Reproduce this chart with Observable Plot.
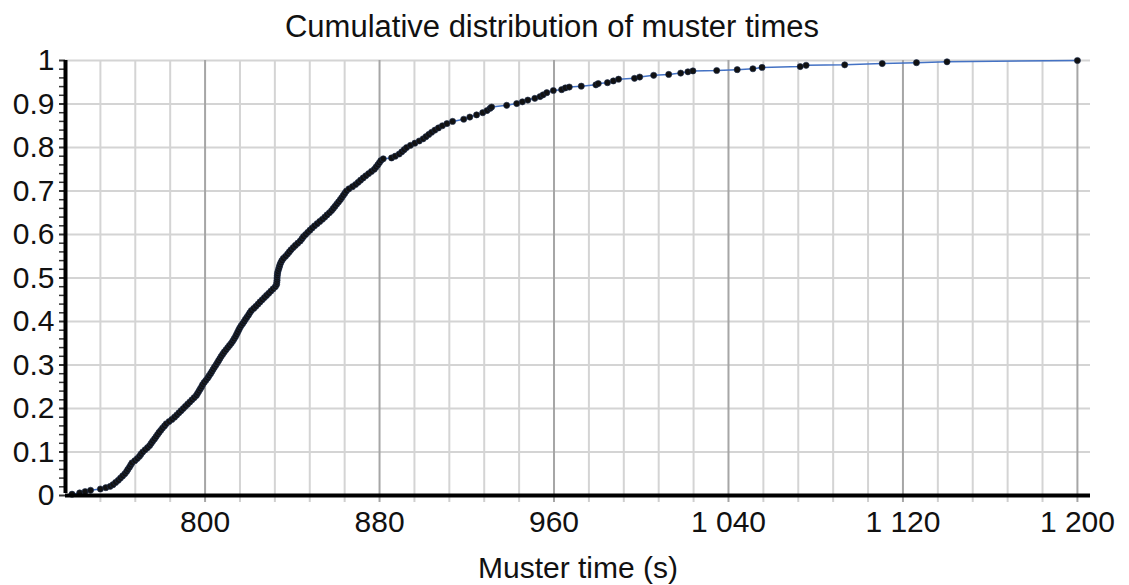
<!DOCTYPE html>
<html>
<head>
<meta charset="utf-8">
<script src="https://cdn.jsdelivr.net/npm/d3@7"></script>
<script src="https://cdn.jsdelivr.net/npm/@observablehq/plot@0.6"></script>
<style>
  html, body { margin: 0; padding: 0; background: #fff; }
  #wrap { position: relative; width: 1129px; height: 585px; font-family: "Liberation Sans", Arial, sans-serif; }
  #title { position: absolute; left: 0; top: 9px; width: 1104px; text-align: center; font-size: 31px; color: #111; line-height: 35px; }
  #chart { position: absolute; left: 0; top: 0; }
</style>
</head>
<body>
<div id="wrap">
  <div id="chart"></div>
  <div id="title">Cumulative distribution of muster times</div>
</div>
<script>
// Muster times (s), sorted
const times = [
  739.0, 742.5, 745.0, 747.5, 752.0, 754.5, 756.5,
  757.8, 759.0, 760.2, 761.2, 762.2, 763.2, 764.0, 764.6, 765.3, 765.9,
  766.5, 767.8, 768.9, 769.9, 770.6, 771.4, 772.5, 773.6, 774.6, 775.3,
  776.0, 776.8, 777.5, 778.2, 778.9, 779.7, 780.5, 781.4, 782.2, 783.5,
  784.8, 786.0, 787.0, 788.0, 789.0, 790.0, 791.0, 792.0, 793.0, 794.0,
  795.0, 796.0, 796.6, 797.2, 797.8, 798.4, 798.9, 799.6, 800.4, 801.2,
  801.8, 802.5, 803.1, 803.7, 804.3, 805.0, 805.6, 806.2, 806.8, 807.4,
  808.1, 808.8, 809.6, 810.4, 811.2, 812.0, 812.7, 813.3, 813.9, 814.4,
  814.9, 815.4, 815.9, 816.5, 817.2, 817.9, 818.5, 819.2, 819.9, 820.5,
  821.2, 822.3, 823.3, 824.3, 825.2, 826.2, 827.2, 828.2, 829.2, 830.2,
  831.2, 832.2, 832.8, 832.9, 833.0, 833.0, 833.1, 833.2, 833.4, 833.7,
  834.0, 834.3, 834.7, 835.2, 835.9, 836.9, 837.8, 838.6, 839.4, 840.4,
  841.4, 842.5, 843.6, 844.4, 845.1, 846.1, 847.1, 848.1, 849.1, 850.2,
  851.4, 852.6, 853.8, 854.9, 855.9, 857.0, 858.0, 858.8, 859.6, 860.4,
  861.2, 862.0, 862.7, 863.4, 864.1, 864.8, 866.0, 867.6, 869.0, 870.2,
  871.3, 872.5, 873.7, 875.0, 876.3, 877.6, 878.4, 879.2, 879.9, 880.6,
  881.7, 885.5, 887.2, 889.0, 890.2, 891.3, 892.4, 894.2, 896.2, 898.2,
  900.0, 901.3, 902.6, 903.9, 905.4, 907.0, 908.8, 910.9, 913.5, 918.6,
  921.4, 924.5, 927.3, 929.3, 930.7, 931.4, 938.3, 942.9, 945.5, 948.0,
  951.2, 953.6, 955.0, 956.7, 959.7, 963.5, 965.2, 967.0, 972.5, 979.2,
  980.3, 984.5, 987.2, 989.6, 996.9, 999.3, 1005.7, 1012.6, 1018.1, 1021.4,
  1023.7, 1034.6, 1044.0, 1051.2, 1055.4, 1072.9, 1075.6, 1093.3, 1110.5, 1126.2,
  1140.2, 1200.0
];
// Cumulative fraction at each time
const fractions = [
  0.003, 0.006, 0.009, 0.012, 0.015, 0.018, 0.021,
  0.025, 0.030, 0.035, 0.040, 0.045, 0.050, 0.055, 0.060, 0.065, 0.070,
  0.075, 0.080, 0.085, 0.090, 0.095, 0.100, 0.105, 0.110, 0.115, 0.120,
  0.125, 0.130, 0.135, 0.140, 0.145, 0.150, 0.155, 0.160, 0.165, 0.170,
  0.175, 0.180, 0.185, 0.190, 0.195, 0.200, 0.205, 0.210, 0.215, 0.220,
  0.225, 0.230, 0.235, 0.240, 0.245, 0.250, 0.255, 0.260, 0.265, 0.270,
  0.275, 0.280, 0.285, 0.290, 0.295, 0.300, 0.305, 0.310, 0.315, 0.320,
  0.325, 0.330, 0.335, 0.340, 0.345, 0.350, 0.355, 0.360, 0.365, 0.370,
  0.375, 0.380, 0.385, 0.390, 0.395, 0.400, 0.405, 0.410, 0.415, 0.420,
  0.425, 0.430, 0.435, 0.440, 0.445, 0.450, 0.455, 0.460, 0.465, 0.470,
  0.475, 0.480, 0.485, 0.490, 0.495, 0.500, 0.505, 0.510, 0.515, 0.520,
  0.525, 0.530, 0.535, 0.540, 0.545, 0.550, 0.555, 0.560, 0.565, 0.570,
  0.575, 0.580, 0.585, 0.590, 0.595, 0.600, 0.605, 0.610, 0.615, 0.620,
  0.625, 0.630, 0.635, 0.640, 0.645, 0.650, 0.655, 0.660, 0.665, 0.670,
  0.675, 0.680, 0.685, 0.690, 0.695, 0.700, 0.705, 0.710, 0.715, 0.720,
  0.725, 0.730, 0.735, 0.740, 0.745, 0.750, 0.755, 0.760, 0.765, 0.770,
  0.774, 0.776, 0.780, 0.785, 0.790, 0.795, 0.800, 0.805, 0.810, 0.815,
  0.820, 0.825, 0.830, 0.835, 0.840, 0.845, 0.850, 0.855, 0.860, 0.865,
  0.870, 0.875, 0.880, 0.885, 0.890, 0.893, 0.897, 0.901, 0.905, 0.909,
  0.913, 0.917, 0.921, 0.926, 0.931, 0.933, 0.937, 0.939, 0.941, 0.944,
  0.947, 0.949, 0.953, 0.957, 0.959, 0.962, 0.966, 0.968, 0.971, 0.974,
  0.976, 0.977, 0.979, 0.981, 0.984, 0.986, 0.989, 0.990, 0.993, 0.995,
  0.997, 1.000
];

// Tick values
const xLabelTicks = [800, 880, 960, 1040, 1120, 1200];
const xGridTicks = [752, 768, 784, 800, 816, 832, 848, 864, 880, 896, 912, 928, 944, 960,
  976, 992, 1008, 1024, 1040, 1056, 1072, 1088, 1104, 1120, 1136, 1152, 1168, 1184, 1200];
const xMajorGrid = [800, 880, 960, 1040, 1120, 1200];
const yLabelTicks = [0, 0.1, 0.2, 0.3, 0.4, 0.5, 0.6, 0.7, 0.8, 0.9, 1];
const yMinorTicks = [0.02, 0.04, 0.06, 0.08, 0.12, 0.14, 0.16, 0.18, 0.22, 0.24, 0.26, 0.28,
  0.32, 0.34, 0.36, 0.38, 0.42, 0.44, 0.46, 0.48, 0.52, 0.54, 0.56, 0.58, 0.62, 0.64, 0.66, 0.68,
  0.72, 0.74, 0.76, 0.78, 0.82, 0.84, 0.86, 0.88, 0.92, 0.94, 0.96, 0.98];
const xDomain = [736, 1206];
const xTitle = "Muster time (s)";

const data = times.map((t, i) => ({t, f: fractions[i]}));
const spaceFmt = d3.formatLocale({decimal: ".", thousands: " ", grouping: [3], currency: ["", ""]}).format(",");

const chart = Plot.plot({
  width: 1129,
  height: 585,
  marginTop: 60,
  marginBottom: 90,
  marginLeft: 65,
  marginRight: 39,
  style: {fontFamily: "Liberation Sans, Arial, sans-serif", fontSize: "30px", color: "#111", background: "#fff"},
  x: {domain: xDomain, label: null},
  y: {domain: [0, 1], label: null},
  marks: [
    Plot.ruleY(yLabelTicks.filter(d => d > 0), {stroke: "#d4d4d4", strokeWidth: 2}),
    Plot.axisX(xGridTicks.filter(d => !xMajorGrid.includes(d)), {tickSize: 7, tickFormat: () => "", stroke: "#cfcfcf", strokeWidth: 2, label: null}),
    Plot.ruleX(xGridTicks.filter(d => !xMajorGrid.includes(d)), {stroke: "#d4d4d4", strokeWidth: 2}),
    Plot.ruleX(xMajorGrid, {stroke: "#a6a6a6", strokeWidth: 2}),
    Plot.axisX(xMajorGrid, {tickSize: 7, tickFormat: () => "", stroke: "#a6a6a6", strokeWidth: 2, label: null}),
    Plot.axisX(xLabelTicks, {tickSize: 0, tickPadding: 15, tickFormat: spaceFmt, fontSize: 30, fill: "#111", label: xTitle, labelAnchor: "center", labelArrow: "none", labelOffset: 82}),
    Plot.axisY(yMinorTicks, {tickSize: 6, tickFormat: () => "", stroke: "#333", strokeWidth: 1.5, label: null}),
    Plot.axisY(yLabelTicks, {tickSize: 6, tickPadding: 5, tickFormat: d => d3.format("")(d), stroke: "#333", strokeWidth: 2, fontSize: 30, fill: "#111", label: null}),
    Plot.line(data, {x: "t", y: "f", stroke: "#4472c4", strokeWidth: 1.5}),
    Plot.dot(data, {x: "t", y: "f", r: 3.1, fill: "#111", stroke: "#1f2f50", strokeWidth: 0.6}),
    Plot.ruleX([xDomain[0]], {stroke: "#000", strokeWidth: 4, y1: 0, y2: 1, insetTop: -2}),
    Plot.ruleY([0], {stroke: "#000", strokeWidth: 4})
  ]
});
document.getElementById("chart").appendChild(chart);
</script>
</body>
</html>
